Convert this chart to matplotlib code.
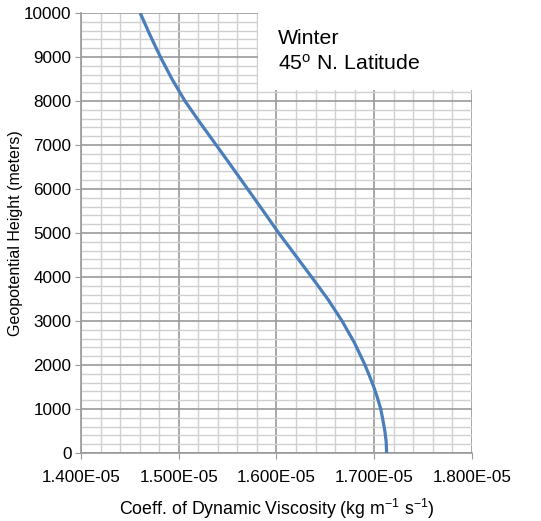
import numpy as np
import matplotlib
matplotlib.use("Agg")
import matplotlib.pyplot as plt
from matplotlib.ticker import MultipleLocator, FuncFormatter

plt.rcParams['font.family'] = ['Liberation Sans', 'DejaVu Sans']
plt.rcParams['mathtext.default'] = 'regular'

# values (height in m, viscosity in kg m-1 s-1)
height = [0, 250, 500, 750, 1000, 1250, 1500, 1750, 2000, 2500, 3000, 3500,
          4000, 4500, 5000, 5500, 6000, 6500, 7000, 7500, 8000, 8500, 9000,
          9500, 10000]
viscosity = [1.7128e-5, 1.7124e-5, 1.7110e-5, 1.7090e-5, 1.7068e-5, 1.7035e-5,
             1.6997e-5, 1.6953e-5, 1.6907e-5, 1.6800e-5, 1.6672e-5, 1.6525e-5,
             1.6360e-5, 1.6192e-5, 1.6023e-5, 1.5865e-5, 1.5705e-5, 1.5545e-5,
             1.5383e-5, 1.5220e-5, 1.5063e-5, 1.4930e-5, 1.4812e-5, 1.4705e-5,
             1.4605e-5]

fig = plt.figure(figsize=(5.41, 5.21), dpi=100)
ax = fig.add_axes([0.150, 0.1305, 0.722, 0.8445])

ax.plot(viscosity, height, color='#4a7ebb', lw=2.3, zorder=3,
        solid_joinstyle='round', solid_capstyle='butt')

ax.set_xlim(1.4e-5, 1.8e-5)
ax.set_ylim(0, 10000)
ax.xaxis.set_major_locator(MultipleLocator(1e-6))
ax.xaxis.set_minor_locator(MultipleLocator(2e-7))
ax.yaxis.set_major_locator(MultipleLocator(1000))
ax.yaxis.set_minor_locator(MultipleLocator(200))
ax.xaxis.set_major_formatter(FuncFormatter(lambda v, p: '%.3fE-05' % (v * 1e5)))

ax.grid(which='major', color='#9a9a9a', lw=1.2)
ax.grid(which='minor', color='#d0d0d0', lw=1.0)
ax.set_axisbelow(True)

for s in ['top', 'right']:
    ax.spines[s].set_visible(False)
for s in ['left', 'bottom']:
    ax.spines[s].set_color('#9a9a9a')
    ax.spines[s].set_linewidth(1.2)
ax.tick_params(which='major', length=4, color='#9a9a9a', labelsize=12.3)
ax.tick_params(which='minor', length=0)
ax.tick_params(axis='x', pad=8)
ax.tick_params(axis='y', pad=3)

ax.set_xlabel('Coeff. of Dynamic Viscosity (kg m$^{-1}$ s$^{-1}$)', fontsize=12.8)
ax.set_ylabel('Geopotential Height (meters)', fontsize=11.5)
ax.xaxis.set_label_coords(0.5, -0.100)
ax.yaxis.set_label_coords(-0.150, 0.5)

# white label box in the upper right
box = plt.Rectangle((0.452, 0.825), 0.548, 0.175, transform=ax.transAxes,
                    facecolor='white', edgecolor='none', zorder=4)
ax.add_patch(box)
ax.text(0.504, 0.941, 'Winter', transform=ax.transAxes, fontsize=15.3,
        va='center', ha='left', zorder=5)
ax.text(0.504, 0.884, '45$^{o}$ N. Latitude', transform=ax.transAxes, fontsize=15.3,
        va='center', ha='left', zorder=5)

fig.savefig('out.png', dpi=100)
